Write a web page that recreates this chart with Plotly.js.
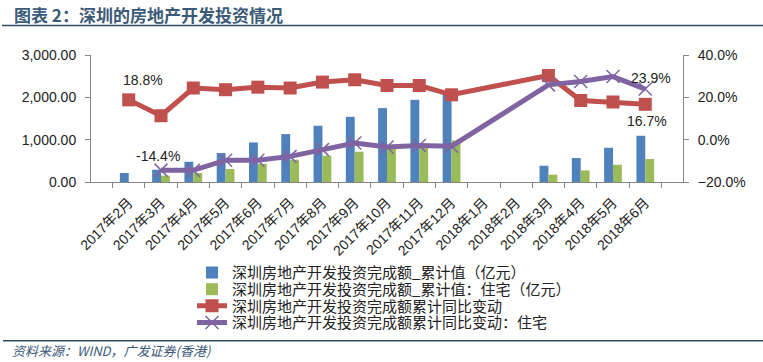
<!DOCTYPE html>
<html><head><meta charset="utf-8">
<script src="https://cdn.plot.ly/plotly-3.0.1.min.js"></script>
<style>html,body{margin:0;padding:0;background:#fff}#c{width:763px;height:362px}</style>
</head><body><div id="c"></div>
<script>
const categories = ["2017年2月","2017年3月","2017年4月","2017年5月","2017年6月","2017年7月","2017年8月","2017年9月","2017年10月","2017年11月","2017年12月","2018年1月","2018年2月","2018年3月","2018年4月","2018年5月","2018年6月"];
const investTotal = [212, 290, 478, 684, 934, 1132, 1328, 1540, 1745, 1941, 2080, null, null, 384, 566, 809, 1092];
const investResidential = [null, 149, 212, 307, 432, 526, 620, 715, 790, 845, 980, null, null, 172, 274, 408, 542];
const yoyTotal = [18.8, 11.3, 24.4, 23.6, 24.8, 24.4, 27.2, 28.3, 25.6, 25.6, 21.2, null, null, 30.3, 18.5, 17.8, 16.7];
const yoyResidential = [null, -14.4, -14.5, -9.7, -9.7, -7.9, -4.7, -1.6, -3.5, -2.8, -3.1, null, null, 25.9, 27.5, 29.8, 23.9];
const seriesNames = ["深圳房地产开发投资完成额_累计值（亿元）","深圳房地产开发投资完成额_累计值：住宅（亿元）","深圳房地产开发投资完成额累计同比变动","深圳房地产开发投资完成额累计同比变动：住宅"];

const latin = "Liberation Sans, Noto Sans CJK SC, sans-serif";
const tickFont = {family:latin, size:14, color:"#222"};
const traces = [
  {type:"bar", x:categories, y:investTotal, name:seriesNames[0], marker:{color:"#4F81BD"}, yaxis:"y", legend:"legend"},
  {type:"bar", x:categories, y:investResidential, name:seriesNames[1], marker:{color:"#9BBB59"}, yaxis:"y", legend:"legend2"},
  {type:"scatter", mode:"lines+markers", x:categories, y:yoyTotal, name:seriesNames[2], yaxis:"y2", connectgaps:true, legend:"legend3",
   line:{color:"#C0504D", width:5}, marker:{symbol:"square", size:13, color:"#C0504D"}},
  {type:"scatter", mode:"lines+markers", x:categories, y:yoyResidential, name:seriesNames[3], yaxis:"y2", connectgaps:true, legend:"legend4",
   line:{color:"#8064A2", width:5}, marker:{symbol:"x-thin", size:13, line:{color:"#8064A2", width:1.5}}}
];
const fmt = v => v.toFixed(1) + "%";
const annFont = {family:latin, size:14, color:"#222"};
const PT = 55, PB = 182.3, PH = PB - PT, PL = 91, PW = 592;
const py = yPx => (PB - yPx) / PH;
const px = xPx => (xPx - PL) / PW;
const annotations = [
  {x:categories[0], y:yoyTotal[0], yref:"y2", text:fmt(yoyTotal[0]), showarrow:false, yshift:20, xshift:14, font:annFont},
  {x:categories[1], y:yoyResidential[1], yref:"y2", text:fmt(yoyResidential[1]), showarrow:false, yshift:14, xshift:-3, font:annFont},
  {x:categories[16], y:yoyResidential[16], yref:"y2", text:fmt(yoyResidential[16]), showarrow:false, yshift:11, xshift:6, font:annFont},
  {x:categories[16], y:yoyTotal[16], yref:"y2", text:fmt(yoyTotal[16]), showarrow:false, yshift:-17, xshift:2, font:annFont},
  {xref:"paper", yref:"paper", x:px(12), y:py(14), xanchor:"left", yanchor:"middle", showarrow:false,
   text:"<b>图表 2：深圳的房地产开发投资情况</b>", font:{family:"Noto Sans CJK SC", size:17, color:"#3B5A78"}},
  {xref:"paper", yref:"paper", x:px(10), y:py(351.5), xanchor:"left", yanchor:"middle", showarrow:false,
   text:"<i>资料来源：WIND，广发证券(香港)</i>", font:{family:"Noto Sans CJK SC", size:13, color:"#3B5A78"}}
];
const legendFont = {family:"Noto Sans CJK SC", size:15, color:"#222"};
const mkLegend = yPx => ({x:px(192), y:py(yPx), xanchor:"left", yanchor:"middle",
  font:legendFont, itemwidth:30, bgcolor:"rgba(0,0,0,0)", borderwidth:0});
const layout = {
  width:763, height:362,
  margin:{l:91, r:80, t:55, b:180, pad:0},
  paper_bgcolor:"#fff", plot_bgcolor:"#fff",
  barmode:"group", bargap:0.45, bargroupgap:0,
  showlegend:true,
  legend:mkLegend(273.3), legend2:mkLegend(290), legend3:mkLegend(306.7), legend4:mkLegend(323.3),
  xaxis:{type:"category", automargin:false, showgrid:false, showline:true, linecolor:"#868686", linewidth:1,
    ticks:"outside", tickson:"boundaries", ticklen:5, tickcolor:"#868686", tickangle:-45, ticklabelstandoff:6,
    tickfont:{family:latin, size:14, color:"#222"}, zeroline:false},
  yaxis:{range:[0,3000], dtick:1000, tickformat:",.2f", showgrid:false, zeroline:false, automargin:false,
    showline:true, linecolor:"#868686", ticks:"outside", ticklen:5, tickcolor:"#868686", tickfont:tickFont, ticklabelstandoff:6},
  yaxis2:{overlaying:"y", side:"right", range:[-20,40], dtick:20, tickformat:".1f", ticksuffix:"%", automargin:false,
    showgrid:false, zeroline:false, showline:true, linecolor:"#868686", ticks:"outside", ticklen:5,
    tickcolor:"#868686", tickfont:tickFont, ticklabelstandoff:6},
  annotations:annotations,
  shapes:[
    {type:"line", xref:"paper", yref:"paper", x0:px(2), x1:px(763), y0:py(25.5), y1:py(25.5), line:{color:"#2F4F5F", width:1.5}},
    {type:"line", xref:"paper", yref:"paper", x0:px(3), x1:px(763), y0:py(341.5), y1:py(341.5), line:{color:"#2F4F5F", width:1.5}}
  ]
};
Plotly.newPlot("c", traces, layout, {displayModeBar:false, staticPlot:true});
</script></body></html>
